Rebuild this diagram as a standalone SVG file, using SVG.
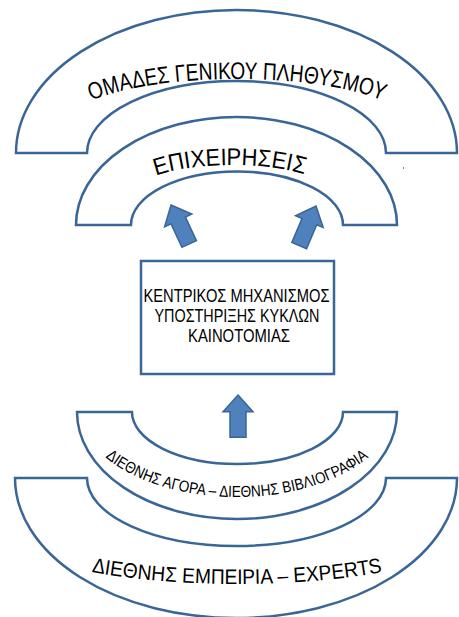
<svg xmlns="http://www.w3.org/2000/svg" xmlns:xlink="http://www.w3.org/1999/xlink" width="459" height="617" viewBox="0 0 459 617">
<style>
.band{fill:#ffffff;stroke:#3A6597;stroke-width:2.5;stroke-linejoin:miter}
.arrow{fill:#4F81BD;stroke:#3A6597;stroke-width:1.5;stroke-linejoin:miter}
.t{font-family:"Liberation Sans","Noto Sans",Arial,sans-serif;fill:#000000}
</style>
<defs>
<path id="arr" d="M0,0 L15,17 L8,17 L8,43 L-8,43 L-8,17 L-15,17 Z"/>
<path id="p1" d="M 67 124 A 170 45 0 0 1 407 124"/>
<path id="p2" d="M 132 195 A 100 30 0 0 1 332 195"/>
<path id="p3" d="M 77 405 A 160 92 0 0 0 397 405"/>
<path id="p4" d="M -23 514 A 260 70 0 0 0 497 514"/>
</defs>
<rect width="459" height="617" fill="#ffffff"/>

<g id="omades">
<path class="band" d="M 16 153 A 220.5 143 0 0 1 457 153 L 386 153 A 149.5 72 0 0 0 87 153 Z"/>
<text class="t" font-size="24"><textPath href="#p1" startOffset="50%" text-anchor="middle" textLength="296" lengthAdjust="spacingAndGlyphs">ΟΜΑΔΕΣ ΓΕΝΙΚΟΥ ΠΛΗΘΥΣΜΟΥ</textPath></text>
</g>

<g id="epixeiriseis">
<path class="band" d="M 76 225 A 160.5 108 0 0 1 397 225 L 343 225 A 106 53.5 0 0 0 131 225 Z"/>
<text class="t" font-size="24"><textPath href="#p2" startOffset="49%" text-anchor="middle" textLength="150" lengthAdjust="spacingAndGlyphs">ΕΠΙΧΕΙΡΗΣΕΙΣ</textPath></text>
</g>

<g id="kentrikos">
<rect class="band" x="141" y="261" width="193" height="113"/>
<text class="t" font-size="18" text-anchor="middle">
<tspan x="239" y="302" textLength="186" lengthAdjust="spacingAndGlyphs">ΚΕΝΤΡΙΚΟΣ ΜΗΧΑΝΙΣΜΟΣ</tspan>
<tspan x="239.5" y="322" textLength="165" lengthAdjust="spacingAndGlyphs">ΥΠΟΣΤΗΡΙΞΗΣ ΚΥΚΛΩΝ</tspan>
<tspan x="239" y="342" textLength="102" lengthAdjust="spacingAndGlyphs">ΚΑΙΝΟΤΟΜΙΑΣ</tspan>
</text>
</g>

<g id="agora">
<path class="band" d="M 77 412 L 132 412 A 105.5 52 0 0 0 343 412 L 397 412 A 160 107 0 0 1 77 412 Z"/>
<text class="t" font-size="16"><textPath href="#p3" startOffset="50%" text-anchor="middle" textLength="280" lengthAdjust="spacingAndGlyphs">ΔΙΕΘΝΗΣ ΑΓΟΡΑ – ΔΙΕΘΝΗΣ ΒΙΒΛΙΟΓΡΑΦΙΑ</textPath></text>
</g>

<g id="empeiria">
<path class="band" d="M 15 478 L 87 478 A 149.5 68 0 0 0 386 478 L 457 478 A 221 140 0 0 1 15 478 Z"/>
<text class="t" font-size="21"><textPath href="#p4" startOffset="50%" text-anchor="middle" textLength="292" lengthAdjust="spacingAndGlyphs">ΔΙΕΘΝΗΣ ΕΜΠΕΙΡΙΑ – EXPERTS</textPath></text>
</g>

<g id="connectors">
<use href="#arr" class="arrow" transform="translate(171,205) rotate(-25)"/>
<use href="#arr" class="arrow" transform="translate(316,206) rotate(23)"/>
<use href="#arr" class="arrow" transform="translate(238,395) scale(1,0.98)"/>
</g>

<rect x="403" y="167" width="1" height="2" fill="#5B8BC4"/>
</svg>
